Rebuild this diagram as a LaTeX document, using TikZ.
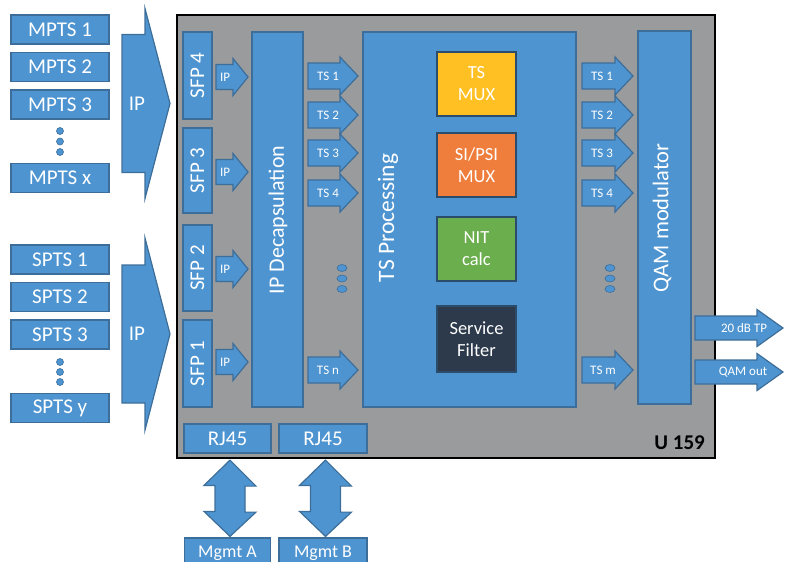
\documentclass[tikz,border=0pt]{standalone}
\usepackage{fontspec}
\setmainfont{Carlito}
\usetikzlibrary{calc}
\definecolor{boxblue}{HTML}{4E94D0}
\definecolor{boxline}{HTML}{3D6E99}
\definecolor{chassis}{HTML}{999B9D}
\definecolor{muxgold}{HTML}{FFC023}
\definecolor{psiorange}{HTML}{EF7D3B}
\definecolor{nitgreen}{HTML}{6BAE4E}
\definecolor{filterdark}{HTML}{2C3A4B}

% block arrow: name, x left, x neck, x tip, y centre, shaft half, head half, label x, label
\newcommand{\barr}[9]{%
  \draw[blk] (#2,#5-#6) -- (#3,#5-#6) -- (#3,#5-#7) -- (#4,#5)
    -- (#3,#5+#7) -- (#3,#5+#6) -- (#2,#5+#6) -- cycle;
  \node[arlab] (#1) at (#8,#5) {#9};}

\begin{document}
\begin{tikzpicture}[
    x=1pt, y=-1pt,
    blk/.style={fill=boxblue, draw=boxline, line width=1.2pt},
    arlab/.style={font=\fontsize{13}{13}\selectfont, text=white, inner sep=0pt},
    src/.style={blk, minimum width=98pt, minimum height=29pt, inner sep=0pt,
                font=\fontsize{21}{21}\selectfont, text=white},
    sfp/.style={blk, minimum height=29pt, inner sep=0pt, rotate=90,
                font=\fontsize{21}{21}\selectfont, text=white},
    stage/.style={blk, inner sep=0pt, text=white},
    vlab/.style={rotate=90, font=\fontsize{22}{22}\selectfont, text=white, inner sep=0pt},
    func/.style={draw=boxline!70!black, line width=1.2pt, minimum width=79pt,
                 minimum height=64pt, inner sep=0pt, align=center,
                 font=\fontsize{18.5}{22}\selectfont, text=white},
    port/.style={blk, minimum height=29pt, inner sep=0pt,
                 font=\fontsize{21}{21}\selectfont, text=white},
    dot/.style={fill=boxblue, draw=boxline, line width=0.6pt},
]
\useasboundingbox (0,0) rectangle (787,562);

% ---------------------------------------------------------------- sources
\node[src] (mpts1) at (60,29.5) {MPTS 1};
\node[src] (mpts2) at (60,67) {MPTS 2};
\node[src] (mpts3) at (60,104.5) {MPTS 3};
\node[src] (mptsx) at (60,178) {MPTS x};
\foreach \y in {131,141.5,152} \draw[dot] (60,\y) circle (3.5pt);

\node[src] (spts1) at (60,259.5) {SPTS 1};
\node[src] (spts2) at (60,297) {SPTS 2};
\node[src] (spts3) at (60,334.5) {SPTS 3};
\node[src] (sptsy) at (60,408) {SPTS y};
\foreach \y in {362,372,382} \draw[dot] (60,\y) circle (3.5pt);

\begin{scope}[arlab/.append style={font=\fontsize{21}{21}\selectfont}]
\barr{ipa}{122}{145}{170}{103.5}{69}{95}{137}{IP}
\barr{ipb}{122}{145}{170}{334}{69}{96}{137}{IP}
\end{scope}

% ---------------------------------------------------------------- U 159
\draw[fill=chassis, draw=black, line width=2.2pt] (177,15) rectangle (715,458);
\node[font=\fontsize{21}{21}\selectfont\bfseries, anchor=base east, inner sep=0pt]
    (unit) at (705,449) {U 159};

\node[sfp, minimum width=87pt] (sfp4) at (197.5,75.5) {SFP 4};
\node[sfp, minimum width=85pt] (sfp3) at (197.5,170.5) {SFP 3};
\node[sfp, minimum width=86pt] (sfp2) at (197.5,268) {SFP 2};
\node[sfp, minimum width=87pt] (sfp1) at (197.5,363.5) {SFP 1};

\foreach \n/\y in {4/77, 3/172, 2/269, 1/362}{
    \barr{ip\n}{216}{233}{248}{\y}{12.5}{18.5}{225}{IP}
}

\node[stage, minimum width=51pt, minimum height=375pt] (decap) at (277.5,219.5) {};
\node[vlab] at (278,220) {IP Decapsulation};

% TS in
\foreach \n/\y in {1/76, 2/115, 3/153, 4/193}{
    \barr{tsin\n}{308}{340}{358}{\y}{13}{19}{328}{TS \n}
}
\barr{tsinn}{308}{340}{358}{370}{13}{19}{328}{TS n}
\foreach \y in {268,278.5,289} \draw[dot] (342,\y) ellipse (5pt and 3.5pt);

% processing
\node[stage, minimum width=213pt, minimum height=375pt] (proc) at (469.5,219.5) {};
\node[vlab, font=\fontsize{23.5}{23.5}\selectfont] at (388,218) {TS Processing};

\node[func, fill=muxgold] (tsmux) at (476.5,84) {TS\\MUX};
\node[func, fill=psiorange] (psimux) at (476.5,165) {SI/PSI\\MUX};
\node[func, fill=nitgreen] (nit) at (476.5,249) {NIT\\calc};
\node[func, fill=filterdark, minimum height=66pt] (filter) at (476.5,339) {Service\\Filter};

% TS out
\foreach \n/\y in {1/76, 2/115, 3/153, 4/193}{
    \barr{tsout\n}{582}{615}{633}{\y}{13}{19}{602}{TS \n}
}
\barr{tsoutm}{582}{615}{633}{370}{13}{19}{603}{TS m}
\foreach \y in {268,278.5,289} \draw[dot] (610,\y) ellipse (5pt and 3.5pt);

\node[stage, minimum width=53pt, minimum height=373pt] (qam) at (664.5,217.5) {};
\node[vlab, font=\fontsize{22.5}{22.5}\selectfont] at (662,218) {QAM modulator};

% outputs
\barr{tp}{695}{757}{783}{328}{12}{18.5}{744}{20 dB TP}
\barr{qamout}{695}{757}{783}{372}{12}{18.5}{743}{QAM out}

% ---------------------------------------------------------------- management
\node[port, minimum width=87pt] (rja) at (227.5,438.5) {RJ45};
\node[port, minimum width=88pt] (rjb) at (323,438.5) {RJ45};
\node[port, minimum width=86pt, minimum height=30pt,
      font=\fontsize{18}{18}\selectfont] (mga) at (227.5,553) {Mgmt A};
\node[port, minimum width=88pt, minimum height=30pt,
      font=\fontsize{18}{18}\selectfont] (mgb) at (323,553) {Mgmt B};

\foreach \a/\b in {rja/mga, rjb/mgb}{
    \path ($(\a.south)+(2.5,6.5)$) coordinate (top)
          ($(\b.north)+(2.5,-1)$) coordinate (bot);
    \draw[blk] (top) -- ++(26,26) -- ++(-11,0) -- ++(0,26) -- ++(11,0)
        -- (bot) -- ++(-26,-25) -- ++(11,0) -- ++(0,-26) -- ++(-11,0) -- cycle;
}

\end{tikzpicture}
\end{document}
